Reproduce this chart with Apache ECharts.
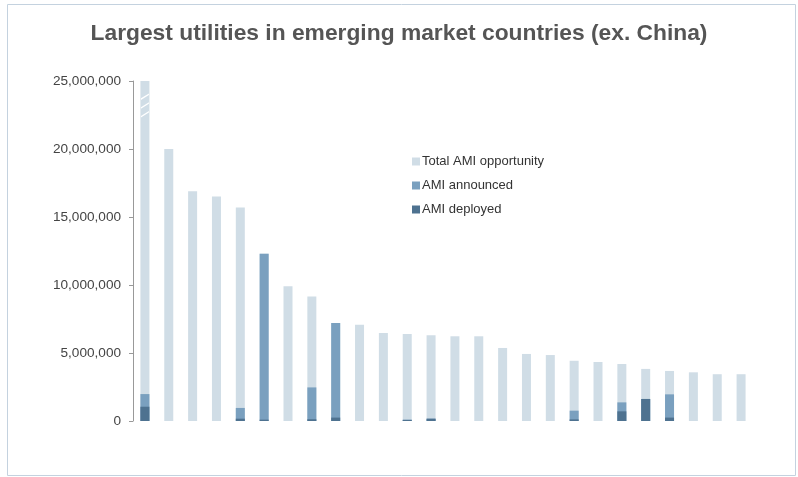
<!DOCTYPE html>
<html>
<head>
<meta charset="utf-8">
<script src="https://cdn.jsdelivr.net/npm/echarts@6/dist/echarts.min.js"></script>
<style>
html,body{margin:0;padding:0;background:#fff;}
#chart{width:798px;height:477px;}
</style>
</head>
<body>
<div id="chart"></div>
<script>
const categories = ['U1','U2','U3','U4','U5','U6','U7','U8','U9','U10','U11','U12','U13','U14','U15','U16','U17','U18','U19','U20','U21','U22','U23','U24','U25','U26'];
const totalOpportunity = [25000000,20000000,16900000,16500000,15700000,12300000,9900000,9150000,7200000,7080000,6470000,6400000,6300000,6230000,6230000,5370000,4930000,4850000,4430000,4340000,4190000,3830000,3680000,3580000,3440000,3440000];
const announced = [1980000,0,0,0,960000,12300000,0,2470000,7200000,0,0,100000,170000,0,0,0,0,0,760000,0,1370000,1620000,1960000,0,0,0];
const deployed = [1050000,0,0,0,170000,100000,0,130000,250000,0,0,80000,170000,0,0,0,0,0,120000,0,710000,1620000,250000,0,0,0];
const yTicks = {min: 0, max: 25000000, interval: 5000000};
const breakMarkValue = 23200000;

const font = "'Liberation Sans', Arial, Helvetica, sans-serif";
const chart = echarts.init(document.getElementById('chart'), null, {renderer: 'canvas'});
chart.setOption({
  backgroundColor: '#fff',
  animation: false,
  title: {
    text: 'Largest utilities in emerging market countries (ex. China)',
    left: 'center',
    top: 17,
    textStyle: {fontFamily: font, fontSize: 22.8, fontWeight: 'bold', color: '#555'}
  },
  legend: {
    orient: 'vertical',
    left: 412,
    top: 155,
    padding: 0,
    itemWidth: 8,
    itemHeight: 8,
    itemGap: 11,
    icon: 'rect',
    textStyle: {fontFamily: font, fontSize: 13, color: '#333', padding: [0,0,0,-3]},
    data: ['Total AMI opportunity','AMI announced','AMI deployed']
  },
  graphic: [{
    type: 'rect', silent: true, z: -1,
    shape: {x: 7.5, y: 4.5, width: 788, height: 471},
    style: {fill: 'none', stroke: '#c4d2df', lineWidth: 1}
  }],
  grid: {left: 133, right: 45, top: 81, bottom: 56, containLabel: false},
  xAxis: {
    type: 'category',
    data: categories,
    axisLine: {show: false},
    axisTick: {show: false},
    axisLabel: {show: false},
    splitLine: {show: false}
  },
  yAxis: {
    type: 'value',
    min: yTicks.min, max: yTicks.max, interval: yTicks.interval,
    axisLine: {show: true, lineStyle: {color: '#999', width: 1}},
    axisTick: {show: true, length: 4, lineStyle: {color: '#999'}},
    splitLine: {show: false},
    axisLabel: {
      margin: 12,
      fontFamily: font, fontSize: 13.6, color: '#444',
      formatter: v => v.toLocaleString('en-US')
    }
  },
  series: [
    {
      name: 'Total AMI opportunity', type: 'bar', data: totalOpportunity,
      barWidth: 9, barGap: '-100%',
      itemStyle: {color: '#d0dde6'},
      markPoint: {
        silent: true,
        label: {show: false},
        data: [{
          coord: [categories[0], breakMarkValue],
          symbol: 'path://M0 6 L8 1 L8 2.6 L0 7.6 Z M0 15 L8 10 L8 11.6 L0 16.6 Z M0 24 L8 19 L8 20.6 L0 25.6 Z',
          symbolSize: [8, 24],
          symbolKeepAspect: false,
          itemStyle: {color: '#ffffff'}
        }]
      }
    },
    {
      name: 'AMI announced', type: 'bar', data: announced,
      barWidth: 9, barGap: '-100%',
      itemStyle: {color: '#7aa0bf'}
    },
    {
      name: 'AMI deployed', type: 'bar', data: deployed,
      barWidth: 9, barGap: '-100%',
      itemStyle: {color: '#4e7290'}
    }
  ]
});
</script>
</body>
</html>
